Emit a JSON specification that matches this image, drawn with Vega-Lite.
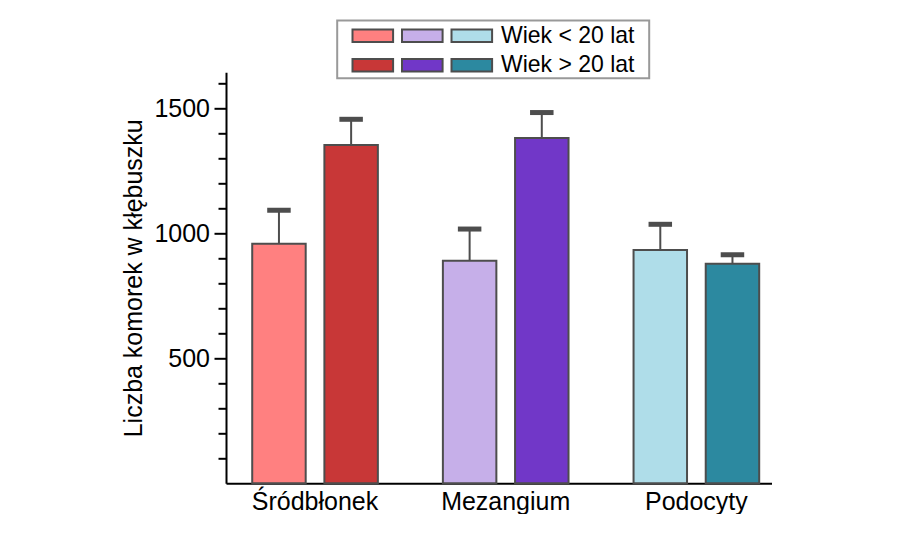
{
  "$schema": "https://vega.github.io/schema/vega-lite/v6.json",
  "background": "white",
  "padding": {"left": 121, "top": 19.3, "right": 0, "bottom": 0},
  "config": {
    "view": {"stroke": null},
    "font": "Liberation Sans",
    "text": {"font": "Liberation Sans"},
    "axis": {"labelFont": "Liberation Sans", "titleFont": "Liberation Sans"}
  },
  "datasets": {
    "bars": [
      {"cell": "Śródbłonek", "age": "<20", "series": "Śródbłonek <20", "value": 958, "upper": 1092},
      {"cell": "Śródbłonek", "age": ">20", "series": "Śródbłonek >20", "value": 1353, "upper": 1456},
      {"cell": "Mezangium", "age": "<20", "series": "Mezangium <20", "value": 890, "upper": 1017},
      {"cell": "Mezangium", "age": ">20", "series": "Mezangium >20", "value": 1381, "upper": 1483},
      {"cell": "Podocyty", "age": "<20", "series": "Podocyty <20", "value": 933, "upper": 1036},
      {"cell": "Podocyty", "age": ">20", "series": "Podocyty >20", "value": 878, "upper": 914}
    ],
    "legendSwatches": [
      {"row": "Wiek < 20 lat", "col": "Śródbłonek", "series": "Śródbłonek <20"},
      {"row": "Wiek < 20 lat", "col": "Mezangium", "series": "Mezangium <20"},
      {"row": "Wiek < 20 lat", "col": "Podocyty", "series": "Podocyty <20"},
      {"row": "Wiek > 20 lat", "col": "Śródbłonek", "series": "Śródbłonek >20"},
      {"row": "Wiek > 20 lat", "col": "Mezangium", "series": "Mezangium >20"},
      {"row": "Wiek > 20 lat", "col": "Podocyty", "series": "Podocyty >20"}
    ],
    "legendLabels": [
      {"row": "Wiek < 20 lat", "col": "label"},
      {"row": "Wiek > 20 lat", "col": "label"}
    ],
    "legendBox": [
      {"box": "legend"}
    ]
  },
  "width": 546,
  "height": 411,
  "resolve": {"scale": {"x": "independent", "y": "independent"}},
  "layer": [
    {
      "data": {"name": "bars"},
      "resolve": {"axis": {"y": "independent"}},
      "encoding": {
        "x": {"field": "cell", "type": "nominal", "sort": ["Śródbłonek", "Mezangium", "Podocyty"],
          "scale": {"paddingInner": 0.341, "paddingOuter": 0.1023, "align": 0.672},
          "axis": {"title": null, "labelAngle": 0, "ticks": false, "domainColor": "black", "domainWidth": 2,
                   "labelFontSize": 25, "labelColor": "black", "labelPadding": 6, "labelOverlap": false}},
        "xOffset": {"field": "age", "type": "nominal", "sort": ["<20", ">20"], "scale": {"paddingInner": 0.259, "paddingOuter": 0}}
      },
      "layer": [
        {
          "mark": {"type": "bar", "stroke": "#4d4d4d", "strokeWidth": 2},
          "encoding": {
            "y": {"field": "value", "type": "quantitative", "scale": {"domain": [0, 1644], "nice": false},
              "axis": {
                "orient": "left",
                "values": [500, 1000, 1500],
                "format": "d",
                "labelOverlap": false,
                "grid": false,
                "title": "Liczba komorek w kłębuszku",
                "titleFontSize": 25, "titleFontWeight": "normal", "titleColor": "black", "titlePadding": 7,
                "labelFontSize": 25, "labelColor": "black", "labelPadding": 4.5,
                "domainColor": "black", "domainWidth": 2,
                "tickColor": "black", "tickWidth": 2, "tickSize": 12
              }},
            "fill": {"field": "series", "type": "nominal", "legend": null,
              "scale": {"domain": ["Śródbłonek <20", "Śródbłonek >20", "Mezangium <20", "Mezangium >20", "Podocyty <20", "Podocyty >20"],
                        "range": ["#ff8080", "#c83737", "#c6afe9", "#7137c8", "#afdde9", "#2c89a0"]}}
          }
        },
        {
          "mark": {"type": "rule", "color": "#4d4d4d", "strokeWidth": 2},
          "encoding": {
            "y": {"field": "value", "type": "quantitative",
              "axis": {
                "orient": "left",
                "values": [100, 200, 300, 400, 600, 700, 800, 900, 1100, 1200, 1300, 1400, 1600],
                "labels": false, "title": null, "grid": false, "domain": false,
                "tickColor": "black", "tickWidth": 2, "tickSize": 8
              }},
            "y2": {"field": "upper"}
          }
        },
        {
          "mark": {"type": "tick", "color": "#4d4d4d", "thickness": 5, "size": 23.5, "opacity": 1},
          "encoding": {
            "y": {"field": "upper", "type": "quantitative", "axis": null}
          }
        }
      ]
    },
    {
      "resolve": {"scale": {"x": "independent", "y": "independent"}},
      "layer": [
        {
          "data": {"name": "legendBox"},
          "mark": {"type": "rect", "fill": "white", "fillOpacity": 0, "stroke": "#999999", "strokeWidth": 2},
          "encoding": {
            "x": {"field": "box", "type": "nominal", "axis": null,
              "scale": {"range": [111.2, 423.2], "paddingInner": 0, "paddingOuter": 0}},
            "y": {"field": "box", "type": "nominal", "axis": null,
              "scale": {"range": [-51.7, 6], "paddingInner": 0, "paddingOuter": 0}}
          }
        },
        {
          "encoding": {
            "x": {"field": "col", "type": "nominal", "axis": null,
              "scale": {"domain": ["Śródbłonek", "Mezangium", "Podocyty", "label"], "range": [126.5, 315.6], "paddingInner": 0.18, "paddingOuter": 0}},
            "y": {"field": "row", "type": "nominal", "axis": null,
              "scale": {"domain": ["Wiek < 20 lat", "Wiek > 20 lat"], "range": [-42.7, -0.9], "paddingInner": 0.578, "paddingOuter": 0}}
          },
          "layer": [
            {
              "data": {"name": "legendSwatches"},
              "mark": {"type": "rect", "stroke": "#4d4d4d", "strokeWidth": 2},
              "encoding": {
                "fill": {"field": "series", "type": "nominal", "legend": null}
              }
            },
            {
              "data": {"name": "legendLabels"},
              "mark": {"type": "text", "align": "left", "baseline": "middle", "fontSize": 23, "font": "Liberation Sans", "color": "black"},
              "encoding": {
                "x": {"field": "col", "type": "nominal", "bandPosition": 0, "axis": null},
                "text": {"field": "row"}
              }
            }
          ]
        }
      ]
    }
  ]
}
